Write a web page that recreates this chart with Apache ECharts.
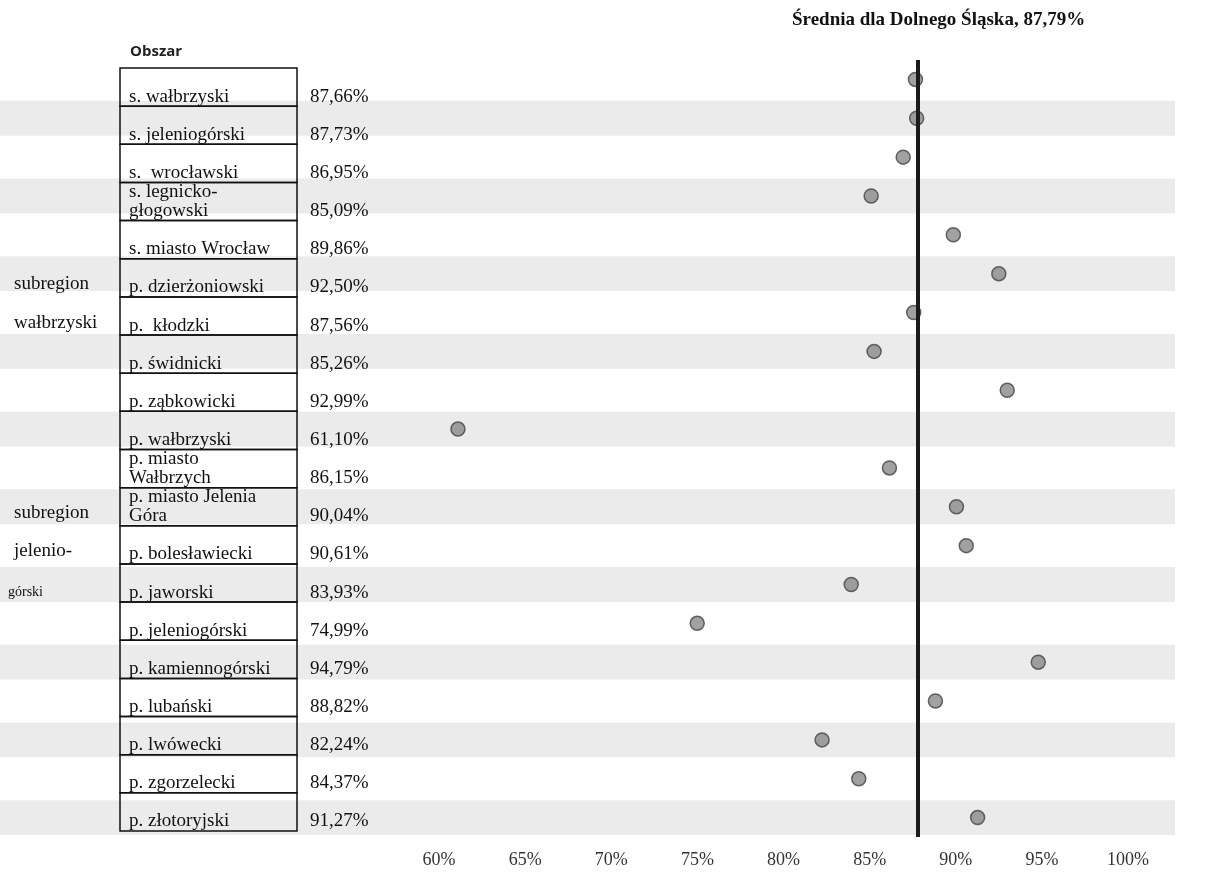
<!DOCTYPE html>
<html>
<head>
<meta charset="utf-8">
<script src="https://cdn.jsdelivr.net/npm/echarts@6/dist/echarts.min.js"></script>
<style>
  html, body { margin: 0; padding: 0; background: #fff; }
  #chart { width: 1216px; height: 895px; }
</style>
</head>
<body>
<div id="chart"></div>
<script>
// areas, top to bottom
const categories = [
  's. wałbrzyski', 's. jeleniogórski', 's.  wrocławski', 's. legnicko-\ngłogowski',
  's. miasto Wrocław', 'p. dzierżoniowski', 'p.  kłodzki', 'p. świdnicki',
  'p. ząbkowicki', 'p. wałbrzyski', 'p. miasto\nWałbrzych', 'p. miasto Jelenia\nGóra',
  'p. bolesławiecki', 'p. jaworski', 'p. jeleniogórski', 'p. kamiennogórski',
  'p. lubański', 'p. lwówecki', 'p. zgorzelecki', 'p. złotoryjski'
];
const values = [
  87.66, 87.73, 86.95, 85.09, 89.86, 92.50, 87.56, 85.26, 92.99, 61.10,
  86.15, 90.04, 90.61, 83.93, 74.99, 94.79, 88.82, 82.24, 84.37, 91.27
];
// labels in the leftmost column
const subregionLabels = [
  '', '', '', '', '', 'subregion', 'wałbrzyski', '', '', '',
  '', 'subregion', 'jelenio-', 'górski', '', '', '', '', '', ''
];
const average = 87.79;
const xTicks = { min: 60, max: 100, interval: 5 };

const fmt = (v) => v.toFixed(2).replace('.', ',') + '%';
const serif = '"Liberation Serif", "DejaVu Serif", serif';

const chart = echarts.init(document.getElementById('chart'));

const hiddenValueAxis = (gi) => ({
  gridIndex: gi, type: 'value', min: 0, max: 1, show: false
});
const hiddenCatAxis = (gi) => ({
  gridIndex: gi, type: 'category', data: categories, inverse: true, show: false
});

const option = {
  animation: false,
  graphic: [
    {
      type: 'text', left: 792, top: 11,
      style: { text: 'Średnia dla Dolnego Śląska, 87,79%', fontFamily: serif, fontWeight: 'bold', fontSize: 19, fill: '#111' }
    },
    {
      type: 'text', left: 130, top: 44,
      style: { text: 'Obszar', fontFamily: '"Open Sans", sans-serif', fontWeight: 'bold', fontSize: 15, fill: '#222' }
    }
  ],
  grid: [
    { left: 0, right: 41, top: 60, height: 777 },   // bands
    { left: 0, right: 0, top: 68, height: 763 },    // table
    { left: 439, right: 88, top: 60, height: 777 }  // dots
  ],
  xAxis: [
    hiddenValueAxis(0),
    hiddenValueAxis(1),
    {
      gridIndex: 2,
      type: 'value',
      min: xTicks.min,
      max: xTicks.max,
      interval: xTicks.interval,
      axisLine: { show: false },
      axisTick: { show: false },
      splitLine: { show: false },
      axisLabel: {
        margin: 14,
        fontFamily: serif,
        fontSize: 18,
        color: '#333',
        formatter: '{value}%'
      }
    }
  ],
  yAxis: [hiddenCatAxis(0), hiddenCatAxis(1), hiddenCatAxis(2)],
  series: [
    {
      // alternating shaded rows
      type: 'custom',
      xAxisIndex: 0,
      yAxisIndex: 0,
      silent: true,
      data: categories.map((c, i) => [0, i]),
      renderItem: (params, api) => {
        const idx = api.value(1);
        if (idx % 2 === 0) return null;
        const p0 = api.coord([0, idx]);
        const p1 = api.coord([1, idx]);
        const h = api.size([0, 1])[1];
        return {
          type: 'rect',
          shape: { x: p0[0], y: p0[1] - h / 2 + 2, width: p1[0] - p0[0], height: h - 4 },
          style: { fill: '#ebebeb' }
        };
      }
    },
    {
      // table with names, values and subregion labels
      type: 'custom',
      xAxisIndex: 1,
      yAxisIndex: 1,
      silent: true,
      data: categories.map((c, i) => [0, i]),
      renderItem: (params, api) => {
        const idx = api.value(1);
        const c = api.coord([0, idx]);
        const h = api.size([0, 1])[1];
        const top = c[1] - h / 2;
        const bottom = c[1] + h / 2;
        const children = [
          {
            type: 'rect',
            shape: { x: 120, y: top, width: 177, height: h },
            style: { fill: 'none', stroke: '#111', lineWidth: 1.5 }
          },
          {
            type: 'text',
            x: 129, y: bottom,
            style: {
              text: categories[idx], fontFamily: serif, fontSize: 19, lineHeight: 19,
              fill: '#111', verticalAlign: 'bottom', align: 'left'
            }
          },
          {
            type: 'text',
            x: 310, y: bottom,
            style: {
              text: fmt(values[idx]), fontFamily: serif, fontSize: 19, lineHeight: 19,
              fill: '#111', verticalAlign: 'bottom', align: 'left'
            }
          }
        ];
        if (subregionLabels[idx]) {
          const small = subregionLabels[idx] === 'górski';
          children.push({
            type: 'text',
            x: small ? 8 : 14, y: bottom - 3,
            style: {
              text: subregionLabels[idx], fontFamily: serif,
              fontSize: small ? 14 : 19,
              fill: '#111', verticalAlign: 'bottom', align: 'left'
            }
          });
        }
        return { type: 'group', children: children };
      }
    },
    {
      type: 'scatter',
      xAxisIndex: 2,
      yAxisIndex: 2,
      symbol: 'circle',
      symbolSize: 14,
      itemStyle: { color: '#8a8a8a', borderColor: '#444', borderWidth: 1.5 },
      data: values.map((v, i) => [v, i]),
      markLine: {
        silent: true,
        symbol: 'none',
        label: { show: false },
        lineStyle: { color: '#1a1a1a', width: 4, type: 'solid' },
        data: [{ xAxis: average }]
      },
      z: 3
    }
  ]
};

chart.setOption(option);
</script>
</body>
</html>
